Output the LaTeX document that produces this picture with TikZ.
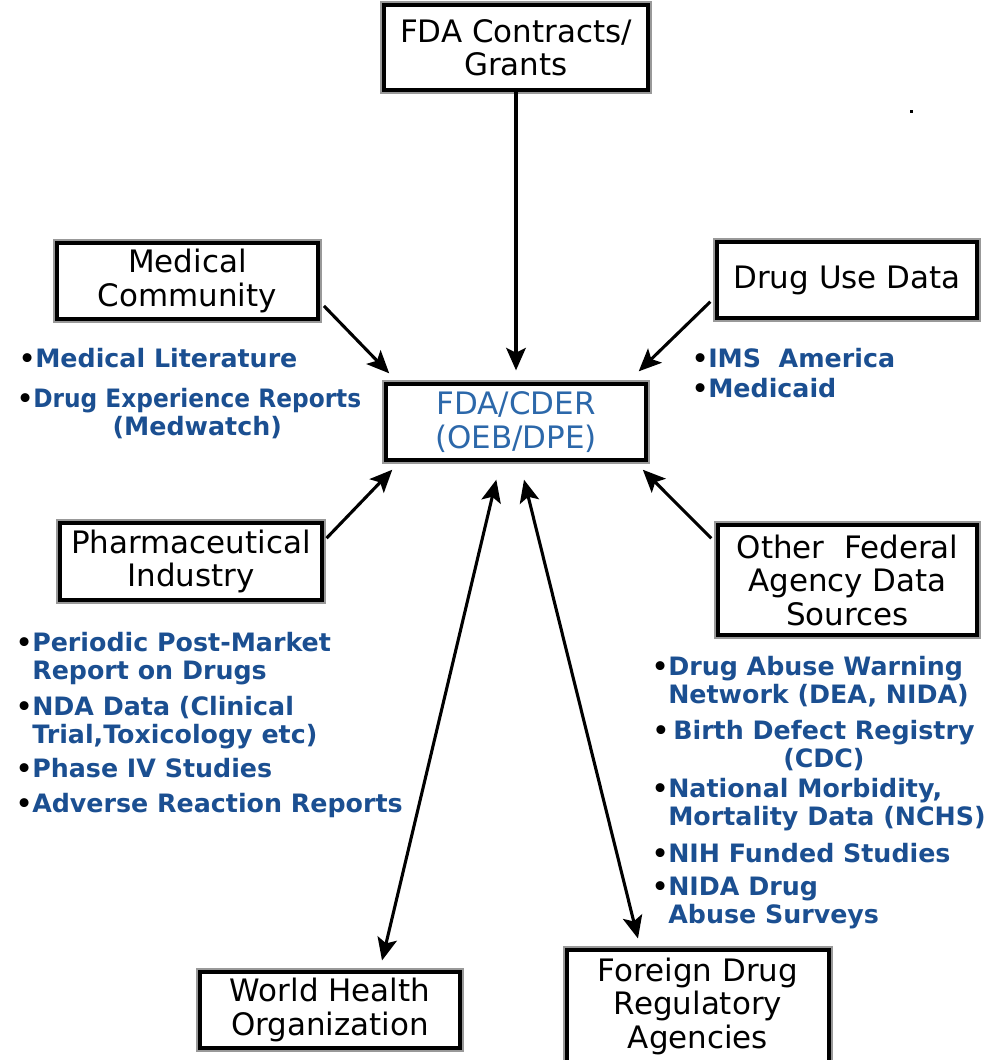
\documentclass[tikz,border=0pt]{standalone}
\usepackage{xcolor}
\usepackage{fontspec}
\setmainfont{DejaVu Sans}
\usetikzlibrary{arrows.meta}

\definecolor{itemblue}{RGB}{27,79,145}
\definecolor{cderblue}{RGB}{44,104,170}

\begin{document}
\begin{tikzpicture}[x=0.025cm,y=-0.025cm,
	box/.style={draw=black,line width=2.4pt,fill=white,preaction={draw=black!40,line width=5.5pt},
		align=center,inner sep=0pt,font=\fontsize{22}{23.8}\selectfont},
	item/.style={anchor=base west,inner sep=0pt,text=itemblue,font=\bfseries\fontsize{18}{19.6}\selectfont},
	link/.style={line width=2.2pt,-{Stealth[length=16pt,width=14pt,inset=3.5pt]}},
	twoway/.style={line width=2.2pt,{Stealth[length=16pt,width=14pt,inset=3.5pt]}-{Stealth[length=16pt,width=14pt,inset=3.5pt]}}]
	\useasboundingbox (0,0) rectangle (998,1060);

	% boxes
	\node [box,minimum width=6.6cm,minimum height=2.125cm] (contracts) at (516,47.5) {FDA Contracts/\\Grants};
	\node [box,minimum width=6.525cm,minimum height=1.9cm] (medical) at (187.5,281) {Medical\\Community};
	\node [box,minimum width=6.5cm,minimum height=1.9cm] (druguse) at (847,280) {Drug Use Data};
	\node [box,minimum width=6.5cm,minimum height=1.9cm,text=cderblue] (cder) at (516,422) {FDA/CDER\\(OEB/DPE)};
	\node [box,minimum width=6.55cm,minimum height=1.925cm] (pharma) at (191,561.5) {Pharmaceutical\\Industry};
	\node [box,minimum width=6.475cm,minimum height=2.75cm] (federal) at (847.5,580) {Other\ \ Federal\\Agency Data\\Sources};
	\node [box,minimum width=6.5cm,minimum height=1.9cm] (who) at (330,1010) {World Health\\Organization};
	\node [box,minimum width=6.55cm,minimum height=2.8cm] (foreign) at (698,1006) {Foreign Drug\\Regulatory\\Agencies};

	% bullet lists (base = last line)
	\node [item] (medlit) at (35,367) {\llap{\color{black}•}Medical Literature};
	\node [item,align=center] (medwatch) at (33,435) {\llap{\color{black}•}\scalebox{0.92}[1]{Drug Experience Reports}\\(Medwatch)};
	\node [item] (ims) at (708,367) {\llap{\color{black}•}IMS\ \ America};
	\node [item] (medicaid) at (708,397) {\llap{\color{black}•}Medicaid};
	\node [item,align=left] (periodic) at (32,679) {\llap{\color{black}•}Periodic Post-Market\\Report on Drugs};
	\node [item,align=left] (nda) at (32,743) {\llap{\color{black}•}NDA Data (Clinical\\Trial,Toxicology etc)};
	\node [item] (phase) at (32,777) {\llap{\color{black}•}Phase IV Studies};
	\node [item] (adverse) at (32,812) {\llap{\color{black}•}Adverse Reaction Reports};
	\node [item,align=left] (dawn) at (668,703) {\llap{\color{black}•}Drug Abuse Warning\\Network (DEA, NIDA)};
	\node [item,align=center] (birth) at (673,767) {\llap{\color{black}•\hspace{3pt}}Birth Defect Registry\\(CDC)};
	\node [item,align=left] (nchs) at (668,825) {\llap{\color{black}•}National Morbidity,\\Mortality Data (NCHS)};
	\node [item] (nih) at (668,862) {\llap{\color{black}•}NIH Funded Studies};
	\node [item,align=left] (nida) at (668,923) {\llap{\color{black}•}NIDA Drug\\Abuse Surveys};

	\fill [black] (910,110) rectangle (913,113);

	% arrows into FDA/CDER
	\draw [link,shorten >=8.5pt] (contracts) -- (cder);
	\draw [link] ([xshift=3pt,yshift=10.5pt]medical.south east) -- ([xshift=3.5pt,yshift=6.4pt]cder.north west);
	\draw [link] ([xshift=-3.5pt,yshift=12.8pt]druguse.south west) -- ([xshift=-6.4pt,yshift=7.8pt]cder.north east);
	\draw [link] ([xshift=2pt,yshift=-12pt]pharma.north east) -- ([xshift=5.7pt,yshift=-5.7pt]cder.south west);
	\draw [link] ([xshift=-3.5pt,yshift=-10.7pt]federal.north west) -- ([xshift=-3.5pt,yshift=-5.7pt]cder.south east);
	\draw [twoway] ([xshift=37pt,yshift=7pt]who.north) -- ([xshift=-14pt,yshift=-12.8pt]cder.south);
	\draw [twoway] ([xshift=-42.7pt,yshift=7pt]foreign.north) -- ([xshift=5.7pt,yshift=-12.8pt]cder.south);
\end{tikzpicture}
\end{document}
